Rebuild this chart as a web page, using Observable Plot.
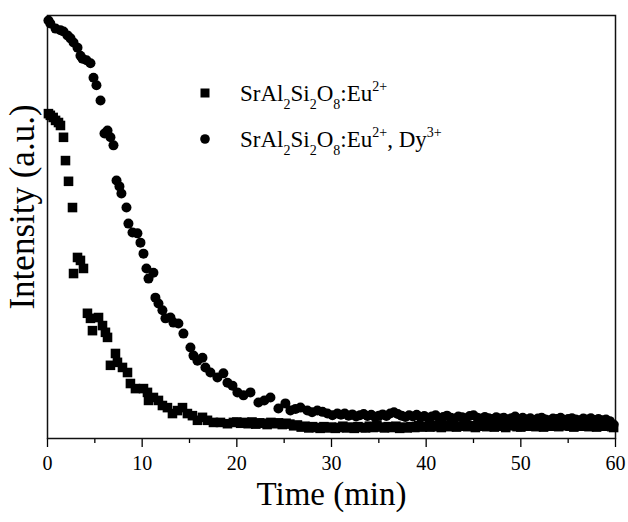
<!DOCTYPE html>
<html>
<head>
<meta charset="utf-8">
<script src="https://cdn.jsdelivr.net/npm/d3@7"></script>
<script src="https://cdn.jsdelivr.net/npm/@observablehq/plot@0.6"></script>
<style>
  html, body { margin: 0; padding: 0; background: #fff; }
  #chart svg { display: block; }
</style>
</head>
<body>
<div id="chart"></div>
<script>
// SrAl2Si2O8:Eu2+ (squares)
const euTime = [0.1,0.3,0.6,0.85,1.16,1.37,1.69,1.90,2.22,2.64,2.75,3.17,3.48,3.80,4.22,4.54,4.75,5.39,5.81,6.12,6.34,6.65,7.18,7.39,7.92,8.45,8.76,9.29,10.14,10.56,10.67,11.19,11.72,12.14,12.67,13.20,13.73,14.26,14.78,15.31,15.84,16.37,16.90,17.53,18.27,19.01,19.64,
  20.0,20.4,20.8,21.2,21.6,22.0,22.4,22.8,23.2,23.6,24.0,24.4,24.8,25.2,25.6,26.0,
  26.4,26.8,27.2,27.6,28.0,28.4,28.8,29.2,29.6,30.0,30.4,30.8,31.2,31.6,32.0,32.4,32.8,33.2,33.6,34.0,34.4,34.8,35.2,35.6,36.0,36.4,36.8,37.2,37.6,38.0,38.4,38.8,39.2,39.6,40.0,
  40.4,40.8,41.2,41.6,42.0,42.4,42.8,43.2,43.6,44.0,44.4,44.8,45.2,45.6,46.0,46.4,46.8,47.2,47.6,48.0,48.4,48.8,49.2,49.6,50.0,50.4,50.8,51.2,51.6,52.0,52.4,52.8,53.2,53.6,54.0,54.4,54.8,55.2,55.6,56.0,56.4,56.8,57.2,57.6,58.0,58.4,58.8,59.2,59.6,59.8];
const euIntensity = [76.8,76.4,75.9,75.2,74.7,74.0,71.2,65.7,60.8,54.6,39.0,42.8,42.1,40.2,29.6,28.4,25.5,28.6,26.7,25.1,23.9,17.3,20.1,18.0,16.8,15.6,13.0,11.8,11.8,10.9,9.0,9.7,9.0,7.8,7.3,5.9,6.6,7.3,5.9,5.4,4.3,5.0,4.3,3.8,3.8,3.5,3.8,
  3.9,3.6,3.8,3.5,3.9,3.4,3.7,3.6,3.3,3.8,3.5,3.7,3.3,3.6,3.4,3.0,
  3.2,2.7,2.9,2.5,2.8,2.6,2.4,2.8,2.5,2.7,2.4,2.6,2.9,2.5,2.7,2.4,2.8,2.6,2.5,2.9,2.6,3.2,2.7,2.5,2.8,2.6,2.9,2.4,2.7,2.5,2.8,2.6,3.0,2.7,2.9,
  2.7,3.1,2.8,2.6,3.0,2.8,3.2,2.7,2.9,3.1,2.8,3.0,2.6,2.9,3.2,2.8,3.0,2.7,3.1,2.9,2.6,3.0,3.2,2.8,2.7,3.1,2.9,3.3,2.8,3.0,2.7,3.1,2.9,3.2,2.8,3.0,3.3,2.9,2.7,3.1,2.9,3.2,2.8,3.0,2.7,3.1,2.9,3.0,2.8,2.6];

// SrAl2Si2O8:Eu2+, Dy3+ (circles)
const dyTime = [0.1,0.3,0.85,1.37,1.69,2.11,2.43,2.75,3.17,3.48,3.70,4.12,4.54,4.86,5.17,5.6,6.02,6.34,6.65,6.97,7.29,7.60,7.81,8.34,8.55,8.98,9.50,9.82,10.14,10.45,10.67,11.19,11.40,11.72,12.14,12.46,12.99,13.30,13.83,14.36,15.10,15.42,15.84,16.37,16.68,17.21,17.95,18.58,19.01,19.54,
  20.06,20.70,21.44,22.28,22.9,23.55,24.39,25.13,25.66,26.2,26.72,27.45,27.95,28.51,29.05,29.57,30.1,30.62,
  31.0,31.4,31.8,32.2,32.6,33.0,33.4,33.8,34.2,34.6,35.0,
  35.4,35.8,36.2,36.6,37.0,37.4,37.8,38.2,38.6,39.0,39.4,39.8,40.2,
  40.6,41.0,41.4,41.8,42.2,42.6,43.0,43.4,43.8,44.2,44.6,45.0,45.4,45.8,46.2,46.6,47.0,47.4,47.8,48.2,48.6,49.0,49.4,49.8,50.2,
  50.6,51.0,51.4,51.8,52.2,52.6,53.0,53.4,53.8,54.2,54.6,55.0,55.4,55.8,56.2,56.6,57.0,57.4,57.8,58.2,58.6,59.0,59.4,59.8];
const dyIntensity = [98.8,98.1,96.9,96.5,96.2,95.3,94.6,93.6,92.4,90.5,89.8,89.4,88.7,85.3,83.5,79.9,72.1,72.8,71.2,69.3,61.0,59.6,57.9,54.6,50.8,48.7,48.5,46.3,43.7,40.2,37.8,39.2,33.3,31.9,30.3,28.4,28.6,27.4,27.2,24.8,21.5,19.6,18.4,19.1,16.8,15.6,14.4,15.4,13.2,12.5,
  10.9,10.2,10.9,8.5,9.0,9.7,7.1,8.3,6.6,7.0,7.3,6.6,6.2,6.6,6.3,5.9,5.5,5.9,
  5.6,5.9,5.4,5.7,5.2,5.5,5.8,5.3,5.6,5.1,5.4,
  5.7,5.3,5.9,6.2,5.8,5.4,5.1,5.5,5.2,5.6,5.0,5.3,4.9,
  5.2,5.5,4.8,5.1,5.4,4.9,4.7,5.2,5.0,4.8,5.3,5.5,4.9,4.7,5.1,4.8,4.6,5.0,4.7,4.9,4.5,4.8,5.2,4.6,4.9,
  4.5,4.8,4.4,4.7,4.9,4.5,4.3,4.7,4.6,4.9,4.4,4.6,4.8,4.5,4.3,4.7,4.5,4.8,4.4,4.6,4.3,4.5,4.1,3.3];

const xTicks = [0, 10, 20, 30, 40, 50, 60];
const xMinorTicks = [5, 15, 25, 35, 45, 55];
const xLabel = "Time (min)";
const yLabel = "Intensity (a.u.)";

const euData = euTime.map((t, i) => ({t, v: euIntensity[i]}));
const dyData = dyTime.map((t, i) => ({t, v: dyIntensity[i]}));

const FONT = "'Liberation Serif', 'Times New Roman', serif";

const chart = Plot.plot({
  width: 628,
  height: 522,
  marginLeft: 47,
  marginRight: 13,
  marginTop: 15,
  marginBottom: 84,
  style: {fontFamily: FONT, color: "#000", background: "#fff", overflow: "visible"},
  x: {domain: [0, 60]},
  y: {domain: [0, 100], axis: null},
  marks: [
    Plot.axisX({ticks: xTicks, tickSize: 9, tickPadding: 8, fontSize: 20, label: null, strokeWidth: 1.3}),
    Plot.axisX({ticks: xMinorTicks, tickSize: 5, tickFormat: () => "", label: null, strokeWidth: 1.3}),
    Plot.frame({stroke: "#111", strokeWidth: 1.5}),
    Plot.dot(euData, {x: "t", y: "v", symbol: "square", r: 5.4, fill: "#000", stroke: null}),
    Plot.dot(dyData, {x: "t", y: "v", symbol: "circle", r: 5, fill: "#000", stroke: null}),
    Plot.text([xLabel], {frameAnchor: "bottom", dy: 66, fontSize: 33, fill: "#000", textAnchor: "middle"}),
    Plot.text([yLabel], {frameAnchor: "left", dx: -25, dy: -20, rotate: -90, fontSize: 35, fill: "#000", textAnchor: "middle"})
  ]
});

document.getElementById("chart").appendChild(chart);

// Legend (drawn inside the plot area)
const svg = d3.select(chart);
const leg = svg.append("g").attr("font-family", FONT).attr("fill", "#000").attr("text-anchor", "start");
const legendItems = [
  {symbol: "square", parts: [["SrAl",""],["2","sub"],["Si",""],["2","sub"],["O",""],["8","sub"],[":Eu",""],["2+","sup"]]},
  {symbol: "circle", parts: [["SrAl",""],["2","sub"],["Si",""],["2","sub"],["O",""],["8","sub"],[":Eu",""],["2+","sup"],[", Dy",""],["3+","sup"]]}
];
legendItems.forEach((item, i) => {
  const cy = 93 + i * 46;
  if (item.symbol === "square") {
    leg.append("rect").attr("x", 200.5).attr("y", cy - 4.5).attr("width", 9).attr("height", 9);
  } else {
    leg.append("circle").attr("cx", 205).attr("cy", cy).attr("r", 4.8);
  }
  const text = leg.append("text").attr("x", 240).attr("y", cy + 8).attr("font-size", 23).attr("text-anchor", "start");
  let shift = 0;
  item.parts.forEach(([s, kind]) => {
    const target = kind === "sub" ? 8 : kind === "sup" ? -10 : 0;
    const ts = text.append("tspan").text(s).attr("dy", target - shift);
    if (kind) ts.attr("font-size", 14);
    shift = target;
  });
});
</script>
</body>
</html>
